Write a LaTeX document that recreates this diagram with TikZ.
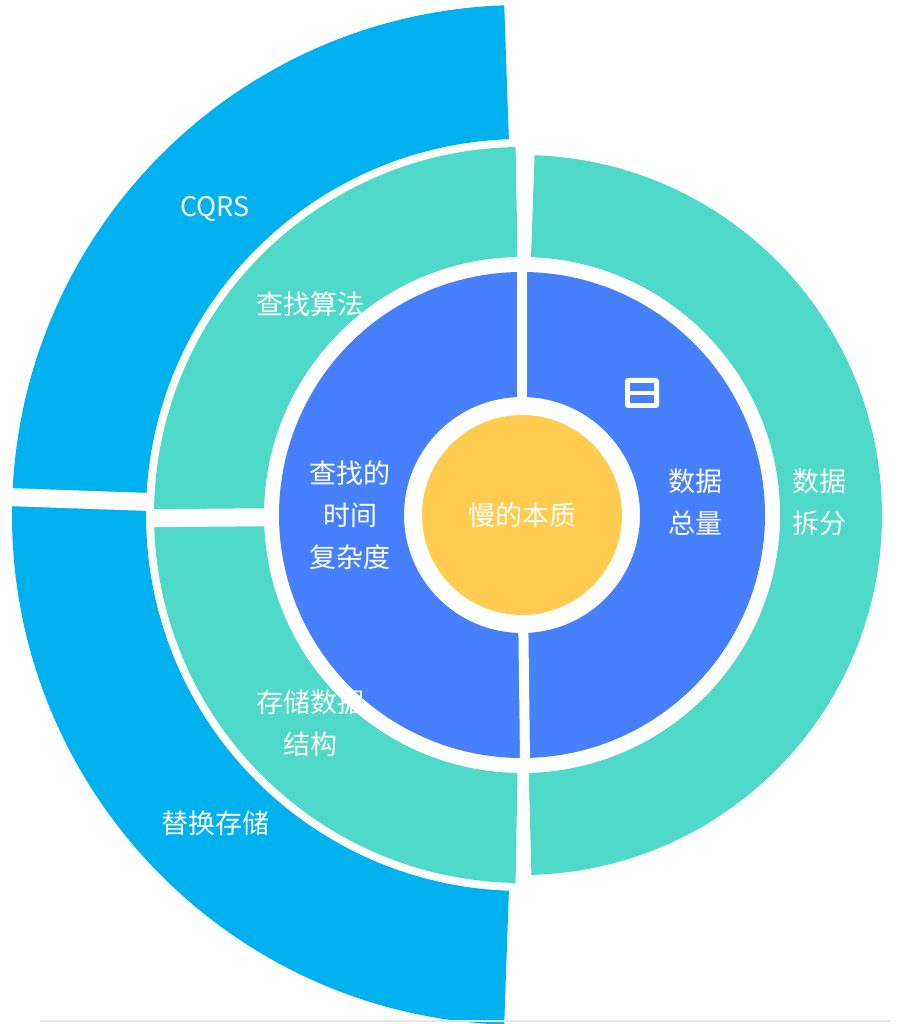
\documentclass[tikz,border=0pt]{standalone}
\usepackage{fontspec}
\setmainfont{Noto Sans CJK SC}
\definecolor{outerc}{RGB}{0,177,240}
\definecolor{greenc}{RGB}{79,217,200}
\definecolor{bluec}{RGB}{70,128,255}
\definecolor{yellowc}{RGB}{255,204,80}
\tikzset{lbl/.style={text=white,font=\fontsize{13.5}{21}\selectfont,align=center},
gapline/.style={white,line width=5pt},
widegap/.style={white,line width=9pt}}
\newcommand{\sector}[5]{\fill[#1] (#2:#4) arc (#2:#3:#4) -- (#3:#5) arc (#3:#2:#5) -- cycle;}
\begin{document}
\begin{tikzpicture}[x=0.5pt,y=0.5pt]
\useasboundingbox (0,0) rectangle (900,1024);
\begin{scope}[shift={(522,509)}]
\sector{outerc}{92}{268}{376}{510}
\sector{greenc}{88}{-88.5}{258}{360}
\sector{greenc}{91}{269}{258}{368}
\sector{bluec}{90}{-89}{118}{243}
\sector{bluec}{90}{271}{118}{243}
\fill[yellowc] (0,0) circle (100);
\draw[widegap] (178:370) -- (178:515);
\draw[widegap] (180.5:255) -- (180.5:372);
\draw[gapline] (90:115) -- (90:246);
\draw[gapline] (-89.3:115) -- (-89.3:246);
\node[lbl] (n0) at (0,0) {慢的本质};
\node[lbl] (n1) at (-172,0) {查找的\\时间\\复杂度};
\node[lbl] (n2) at (173,13) {数据\\总量};
\node[lbl] (n3) at (297,13) {数据\\拆分};
\node[lbl] (n4) at (-212,211) {查找算法};
\node[lbl] (n5) at (-212,-208) {存储数据\\结构};
\node[lbl] (n6) at (-307,306) {CQRS};
\node[lbl] (n7) at (-307,-308) {替换存储};
\begin{scope}[shift={(120,122)}]
\fill[white,rounded corners=1.5pt] (-17,-15) rectangle (17,15);
\fill[bluec] (-12,2) rectangle (12,10);
\fill[bluec] (-12,-10) rectangle (12,-2);
\end{scope}
\end{scope}
\draw[gray!20,line width=1pt] (40,3) -- (890,3);
\end{tikzpicture}
\end{document}
